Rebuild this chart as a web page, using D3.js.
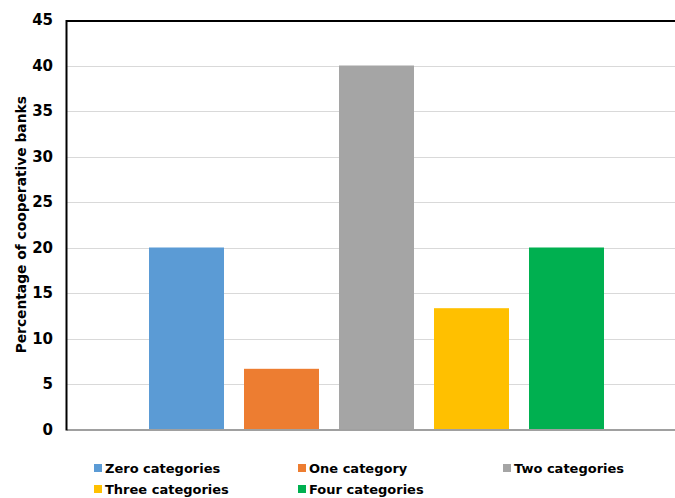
<!DOCTYPE html>
<html>
<head>
    <meta charset="utf-8">
    <script src="https://cdn.jsdelivr.net/npm/d3@7"></script>
    <style>
        body { margin: 0; background: #fff; }
        svg { display: block; font-family: "DejaVu Sans", Verdana, sans-serif; font-weight: bold; }
    </style>
</head>
<body>
<svg width="675" height="498"></svg>
<script>

var seriesNames = ['Zero categories', 'One category', 'Two categories', 'Three categories', 'Four categories'],
    seriesValues = [20, 6.67, 40, 13.33, 20],
    seriesColors = ['#5b9bd5', '#ed7d31', '#a5a5a5', '#ffc000', '#00b050'],
    yTicks = [0, 5, 10, 15, 20, 25, 30, 35, 40, 45];

var svg = d3.select('svg'),
    plotLeft = 67, plotRight = 686, plotTop = 20, plotBottom = 429.5;

var x = d3.scaleBand()
    .domain(seriesNames)
    .range([plotLeft, plotRight])
    .paddingInner(20 / 95)
    .paddingOuter(82 / 95);

var y = d3.scaleLinear().domain([0, 45]).range([plotBottom, plotTop]);

// gridlines
svg.append('g')
    .selectAll('line')
    .data(yTicks.filter(function (d) { return d > 0 && d < 45; }))
    .enter().append('line')
    .attr('x1', plotLeft).attr('x2', 675)
    .attr('y1', function (d) { return Math.round(y(d)) + 0.5; })
    .attr('y2', function (d) { return Math.round(y(d)) + 0.5; })
    .attr('stroke', '#d9d9d9')
    .attr('stroke-width', 1);

// bars
svg.append('g')
    .selectAll('rect')
    .data(seriesValues)
    .enter().append('rect')
    .attr('x', function (d, i) { return x(seriesNames[i]); })
    .attr('width', x.bandwidth())
    .attr('y', function (d) { return y(d); })
    .attr('height', function (d) { return y(0) - y(d); })
    .attr('fill', function (d, i) { return seriesColors[i]; });

// frame
svg.append('line')
    .attr('x1', plotLeft - 1).attr('x2', 675)
    .attr('y1', plotTop + 1).attr('y2', plotTop + 1)
    .attr('stroke', '#000').attr('stroke-width', 2);
svg.append('line')
    .attr('x1', plotLeft).attr('x2', 675)
    .attr('y1', plotBottom + 0.5).attr('y2', plotBottom + 0.5)
    .attr('stroke', '#a0a0a0').attr('stroke-width', 2);
svg.append('line')
    .attr('x1', plotLeft - 0.5).attr('x2', plotLeft - 0.5)
    .attr('y1', plotTop).attr('y2', plotBottom + 1)
    .attr('stroke', '#000').attr('stroke-width', 2);

// y axis
var yAxis = d3.axisLeft(y).tickValues(yTicks).tickSize(0).tickPadding(13);
var gy = svg.append('g')
    .attr('transform', 'translate(' + (plotLeft - 1) + ',0)')
    .call(yAxis);
gy.select('.domain').remove();
gy.selectAll('text')
    .attr('font-size', 15)
    .attr('font-family', '"DejaVu Sans", Verdana, sans-serif')
    .attr('font-weight', 'bold')
    .attr('fill', '#000');

svg.append('text')
    .attr('transform', 'translate(26,' + ((plotTop + plotBottom) / 2) + ') rotate(-90)')
    .attr('text-anchor', 'middle')
    .attr('font-size', 13.8)
    .text('Percentage of cooperative banks');

// legend
var legendPos = [[94, 468], [298, 468], [503, 468], [94, 489], [298, 489]];
var legend = svg.append('g')
    .selectAll('g')
    .data(seriesNames)
    .enter().append('g')
    .attr('transform', function (d, i) { return 'translate(' + legendPos[i][0] + ',' + legendPos[i][1] + ')'; });

legend.append('rect')
    .attr('x', 0).attr('y', -4)
    .attr('width', 8).attr('height', 8)
    .attr('fill', function (d, i) { return seriesColors[i]; });

legend.append('text')
    .attr('x', 11)
    .attr('dy', '0.36em')
    .attr('font-size', 13)
    .text(function (d) { return d; });

</script>
</body>
</html>
